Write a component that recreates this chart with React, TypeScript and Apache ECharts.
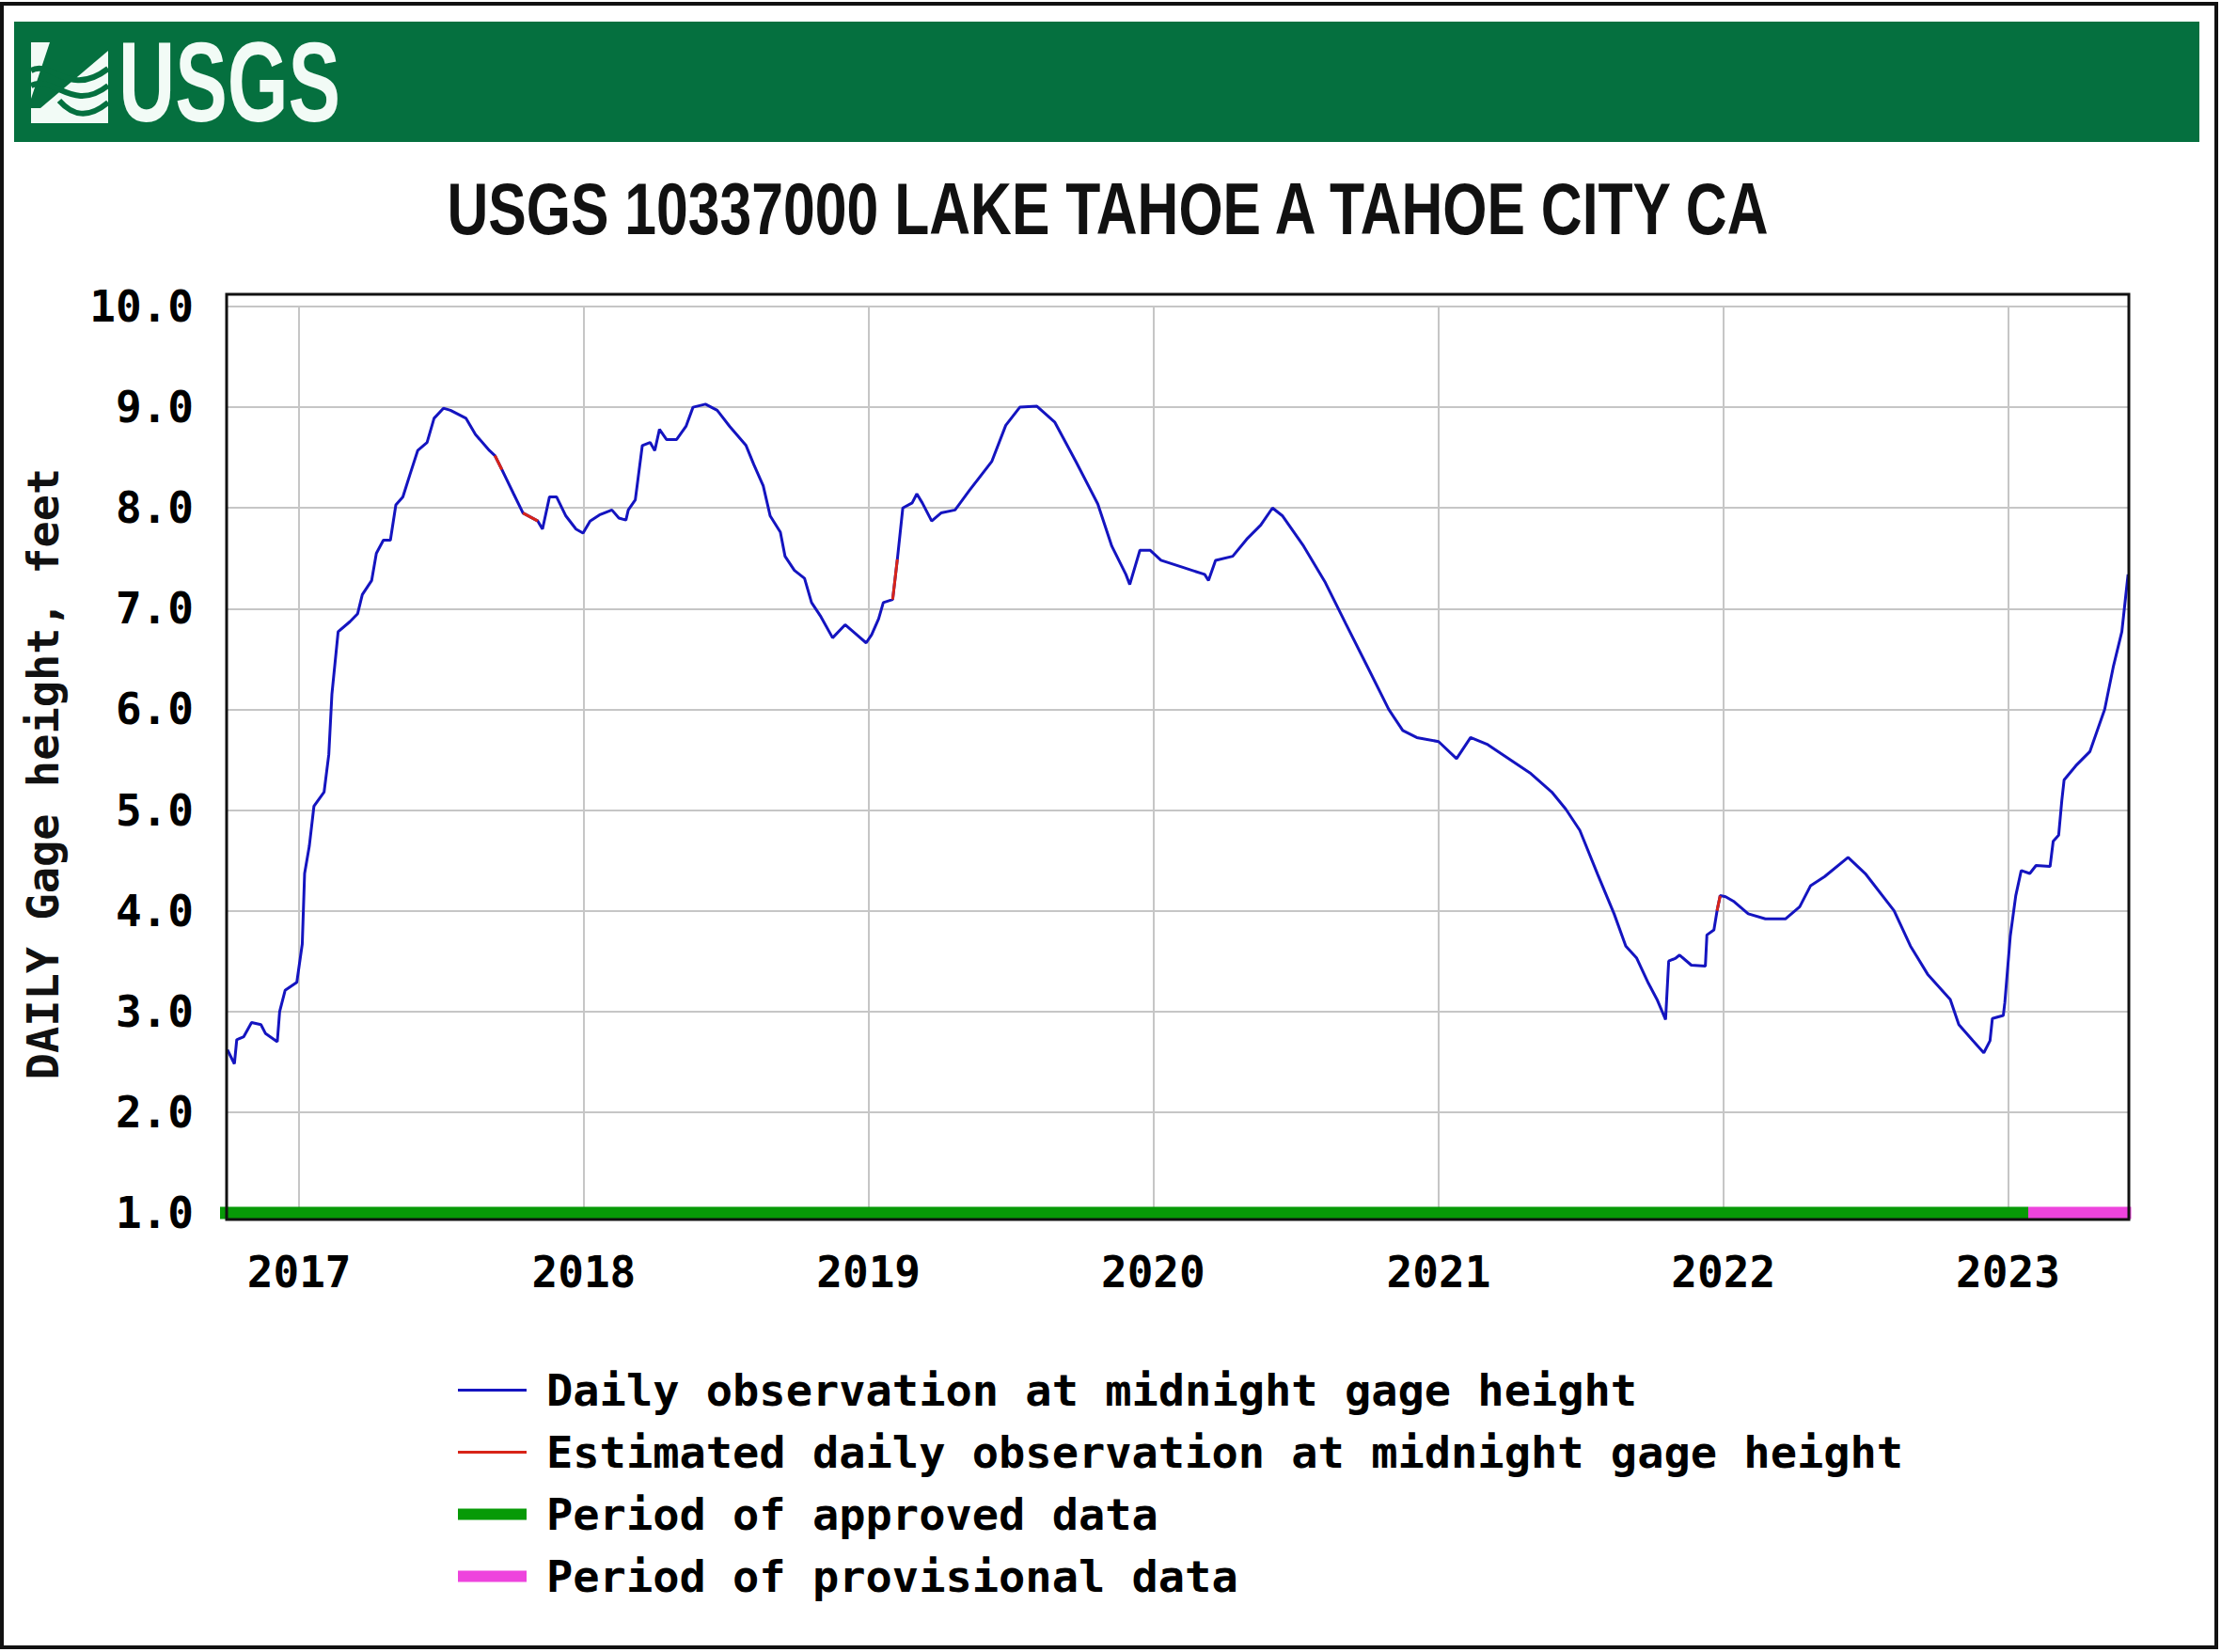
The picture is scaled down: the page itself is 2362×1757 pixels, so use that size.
import React, { useEffect, useRef } from "react";
import * as echarts from "echarts";

// ---- data ----
const obsDates = [
  "2016-10-01","2016-10-10","2016-10-13","2016-10-22","2016-11-01","2016-11-13","2016-11-19","2016-12-04","2016-12-07","2016-12-14","2016-12-29",
  "2017-01-05","2017-01-08","2017-01-14","2017-01-20","2017-02-02","2017-02-08","2017-02-12","2017-02-20","2017-03-07","2017-03-17","2017-03-23",
  "2017-04-04","2017-04-10","2017-04-19","2017-04-28","2017-05-05","2017-05-14","2017-05-23","2017-06-02","2017-06-14","2017-06-23","2017-07-05",
  "2017-07-14","2017-08-03","2017-08-15","2017-09-02","2017-09-09","2017-09-18","2017-10-03","2017-10-15","2017-11-03","2017-11-09","2017-11-18",
  "2017-11-27","2017-12-09","2017-12-22","2017-12-31","2018-01-09","2018-01-21","2018-02-06","2018-02-15","2018-02-24","2018-02-27","2018-03-08",
  "2018-03-17","2018-03-27","2018-04-02","2018-04-08","2018-04-17","2018-04-30","2018-05-12","2018-05-21","2018-06-06","2018-06-21","2018-07-07",
  "2018-07-28","2018-08-07","2018-08-19","2018-08-28","2018-09-10","2018-09-16","2018-09-28","2018-10-11","2018-10-20","2018-11-01","2018-11-16",
  "2018-12-02","2018-12-17","2018-12-29","2019-01-05","2019-01-14","2019-01-20","2019-02-01","2019-02-07","2019-02-14","2019-02-26","2019-03-04",
  "2019-03-11","2019-03-23","2019-04-04","2019-04-22","2019-05-11","2019-06-08","2019-06-26","2019-07-14","2019-08-05","2019-08-28","2019-09-24",
  "2019-10-22","2019-11-09","2019-11-27","2019-12-02","2019-12-15","2019-12-28","2020-01-11","2020-02-08","2020-03-07","2020-03-12","2020-03-21",
  "2020-04-12","2020-04-30","2020-05-18","2020-06-02","2020-06-15","2020-07-12","2020-08-08","2020-09-04","2020-10-02","2020-10-29","2020-11-16",
  "2020-12-04","2021-01-01","2021-01-24","2021-02-11","2021-03-05","2021-04-01","2021-04-28","2021-05-26","2021-06-13","2021-07-01","2021-07-24",
  "2021-08-14","2021-08-29","2021-09-12","2021-09-27","2021-10-08","2021-10-19","2021-10-23","2021-11-01","2021-11-06","2021-11-21","2021-12-09",
  "2021-12-11","2021-12-20","2021-12-24","2021-12-28","2022-01-04","2022-01-15","2022-02-02","2022-02-24","2022-03-22","2022-04-09","2022-04-23",
  "2022-05-11","2022-06-10","2022-07-02","2022-08-08","2022-08-29","2022-09-20","2022-10-19","2022-10-30","2022-11-17","2022-12-01","2022-12-09",
  "2022-12-12","2022-12-26","2022-12-28","2023-01-04","2023-01-11","2023-01-18","2023-01-29","2023-02-06","2023-02-24","2023-02-28","2023-03-07",
  "2023-03-11","2023-03-14","2023-03-29","2023-04-16","2023-05-05","2023-05-16","2023-05-27","2023-06-04"
];

const obsValues = [
  2.62,2.48,2.72,2.75,2.89,2.87,2.78,2.70,3.00,3.21,3.29,
  3.67,4.37,4.64,5.04,5.18,5.55,6.15,6.77,6.87,6.95,7.14,
  7.28,7.55,7.68,7.68,8.03,8.11,8.33,8.57,8.65,8.89,8.99,
  8.97,8.89,8.73,8.57,8.52,8.38,8.14,7.95,7.87,7.79,8.11,
  8.11,7.92,7.79,7.75,7.87,7.93,7.98,7.90,7.88,7.98,8.08,
  8.62,8.65,8.57,8.78,8.68,8.68,8.81,9.00,9.03,8.97,8.81,
  8.62,8.43,8.22,7.92,7.76,7.52,7.38,7.30,7.06,6.92,6.71,
  6.84,6.74,6.66,6.74,6.90,7.06,7.09,7.49,8.00,8.05,8.14,
  8.05,7.87,7.95,7.98,8.18,8.46,8.82,9.00,9.01,8.85,8.46,
  8.04,7.62,7.34,7.24,7.58,7.58,7.48,7.41,7.34,7.28,7.48,
  7.52,7.69,7.83,8.00,7.92,7.62,7.27,6.85,6.42,6.00,5.79,
  5.72,5.68,5.51,5.72,5.65,5.51,5.37,5.18,5.01,4.80,4.36,
  3.97,3.65,3.53,3.28,3.12,2.92,3.50,3.53,3.56,3.46,3.45,
  3.76,3.81,4.00,4.15,4.14,4.09,3.97,3.92,3.92,4.04,4.25,
  4.34,4.53,4.37,4.00,3.65,3.37,3.12,2.87,2.71,2.59,2.71,
  2.93,2.96,3.09,3.75,4.15,4.40,4.37,4.45,4.44,4.69,4.75,
  5.09,5.30,5.44,5.58,6.00,6.42,6.77,7.34
];

// periods flagged as estimated (drawn in red over the daily line)
const estimatedRanges = [
  ["2017-09-09", "2017-09-18"],
  ["2017-10-15", "2017-11-03"],
  ["2019-02-01", "2019-02-07"],
  ["2021-12-24", "2021-12-28"],
];

const approvedPeriod = ["2016-09-18", "2023-01-27"];
const provisionalPeriod = ["2023-01-27", "2023-06-08"];
const periodLevel = 1.0;

const xRange = ["2016-09-30", "2023-06-05"];
const yMin = 1;
const yMax = 10;
const yStep = 1;

const legendNames = [
  "Daily observation at midnight gage height",
  "Estimated daily observation at midnight gage height",
  "Period of approved data",
  "Period of provisional data",
];

const chartTitle = "USGS 10337000 LAKE TAHOE A TAHOE CITY CA";
const yAxisTitle = "DAILY Gage height, feet";

const MONO = "'DejaVu Sans Mono', monospace";
const SANS = "'Liberation Sans', Arial, sans-serif";
const USGS_GREEN = "#05703f";
const LOGO_WHITE = "#f2fbf6";

export default function App() {
  const ref = useRef<HTMLDivElement>(null);

  useEffect(() => {
    if (!ref.current) return;
    const chart = echarts.init(ref.current, null, { renderer: "svg" });

    const obsData = obsDates.map((d, i) => [d, obsValues[i]]);
    const estData: any[] = [];
    estimatedRanges.forEach(([a, b]) => {
      obsDates.forEach((d, i) => {
        if (d >= a && d <= b) estData.push([d, obsValues[i]]);
      });
      estData.push([b, "-"]);
    });

    const gridLeft = 241;
    const gridRight = 2362 - 2264;
    const gridTop = 326;
    const gridBottomY = 1290;

    const option: any = {
      animation: false,
      backgroundColor: "#ffffff",
      grid: {
        left: gridLeft,
        right: gridRight,
        top: gridTop,
        height: gridBottomY - gridTop,
        containLabel: false,
      },
      xAxis: {
        type: "time",
        min: xRange[0],
        max: xRange[1],
        minInterval: 365 * 24 * 3600 * 1000,
        maxInterval: 366 * 24 * 3600 * 1000,
        axisLine: { show: false },
        axisTick: { show: false },
        axisLabel: {
          formatter: "{yyyy}",
          showMinLabel: false,
          showMaxLabel: false,
          fontFamily: MONO,
          fontSize: 46,
          fontWeight: "bold",
          color: "#000",
          margin: 40,
        },
        splitLine: { show: true, lineStyle: { color: "#c6c6c6", width: 2 } },
      },
      yAxis: {
        type: "value",
        min: yMin,
        max: yMax,
        interval: yStep,
        axisLine: { show: false },
        axisTick: { show: false },
        axisLabel: {
          formatter: (v: number) => v.toFixed(1),
          fontFamily: MONO,
          fontSize: 46,
          fontWeight: "bold",
          color: "#000",
          margin: 35,
        },
        splitLine: { show: true, lineStyle: { color: "#c6c6c6", width: 2 } },
      },
      legend: {
        orient: "vertical",
        left: 476,
        top: 1450,
        itemWidth: 73,
        itemHeight: 20,
        itemGap: 19,
        selectedMode: false,
        itemStyle: { opacity: 0 },
        textStyle: {
          fontFamily: MONO,
          fontSize: 47,
          fontWeight: "bold",
          color: "#000",
          lineHeight: 46,
          padding: [0, 0, 0, 16],
        },
        data: [
          { name: legendNames[0], lineStyle: { width: 3 } },
          { name: legendNames[1], lineStyle: { width: 3 } },
          { name: legendNames[2], lineStyle: { width: 12 } },
          { name: legendNames[3], lineStyle: { width: 12 } },
        ],
      },
      series: [
        {
          name: legendNames[0],
          type: "line",
          data: obsData,
          symbol: "none",
          color: "#1414c0",
          lineStyle: { width: 3, color: "#1414c0" },
          z: 3,
        },
        {
          name: legendNames[1],
          type: "line",
          data: estData,
          symbol: "none",
          connectNulls: false,
          color: "#d82418",
          lineStyle: { width: 3, color: "#d82418" },
          z: 4,
        },
        {
          name: legendNames[2],
          type: "line",
          data: [
            [approvedPeriod[0], periodLevel],
            [approvedPeriod[1], periodLevel],
          ],
          symbol: "none",
          clip: false,
          color: "#079a07",
          lineStyle: { width: 13, color: "#079a07", cap: "butt" },
          z: 2,
        },
        {
          name: legendNames[3],
          type: "line",
          data: [
            [provisionalPeriod[0], periodLevel],
            [provisionalPeriod[1], periodLevel],
          ],
          symbol: "none",
          clip: false,
          color: "#ee44dd",
          lineStyle: { width: 13, color: "#ee44dd", cap: "butt" },
          z: 2,
        },
      ],
      graphic: [
        // outer frame
        {
          type: "rect",
          shape: { x: 2, y: 4, width: 2355, height: 1748 },
          style: { fill: "none", stroke: "#111", lineWidth: 4 },
          z: 100,
        },
        // header band
        {
          type: "rect",
          shape: { x: 15, y: 23, width: 2324, height: 128 },
          style: { fill: USGS_GREEN },
          z: 1,
        },
        // logo icon
        { type: "rect", shape: { x: 33, y: 45, width: 82, height: 86 }, style: { fill: LOGO_WHITE }, z: 5 },
        {
          type: "polygon",
          shape: { points: [[53, 45], [115, 45], [115, 54], [43, 115], [33, 115], [33, 105]] },
          style: { fill: USGS_GREEN },
          z: 6,
        },
        {
          type: "bezierCurve",
          shape: { x1: 33, y1: 75, cpx1: 55, cpy1: 63, cpx2: 73, cpy2: 105, x2: 115, y2: 73 },
          style: { stroke: USGS_GREEN, lineWidth: 6, fill: "none" },
          z: 7,
        },
        {
          type: "bezierCurve",
          shape: { x1: 33, y1: 91, cpx1: 57, cpy1: 79, cpx2: 77, cpy2: 121, x2: 115, y2: 91 },
          style: { stroke: USGS_GREEN, lineWidth: 6, fill: "none" },
          z: 7,
        },
        {
          type: "bezierCurve",
          shape: { x1: 63, y1: 107, cpx1: 77, cpy1: 123, cpx2: 93, cpy2: 127, x2: 115, y2: 109 },
          style: { stroke: USGS_GREEN, lineWidth: 6, fill: "none" },
          z: 7,
        },
        {
          type: "text",
          x: 126,
          y: 88,
          scaleX: 0.694,
          z: 5,
          style: {
            text: "USGS",
            fill: LOGO_WHITE,
            fontFamily: SANS,
            fontSize: 120,
            fontWeight: "bold",
            align: "left",
            verticalAlign: "middle",
          },
        },
        // chart title
        {
          type: "text",
          x: 1178,
          y: 222,
          scaleX: 0.778,
          z: 2,
          style: {
            text: chartTitle,
            fill: "#111",
            fontFamily: SANS,
            fontSize: 78,
            fontWeight: "bold",
            align: "center",
            verticalAlign: "middle",
          },
        },
        // y-axis title
        {
          type: "text",
          x: 45,
          y: 823,
          rotation: Math.PI / 2,
          z: 2,
          style: {
            text: yAxisTitle,
            fill: "#111",
            fontFamily: MONO,
            fontSize: 47,
            fontWeight: "bold",
            align: "center",
            verticalAlign: "middle",
          },
        },
        // plot frame
        {
          type: "rect",
          shape: { x: 241, y: 313, width: 2023, height: 984 },
          style: { fill: "none", stroke: "#111", lineWidth: 3 },
          z: 50,
        },
      ],
    };

    chart.setOption(option);
    return () => chart.dispose();
  }, []);

  return (
    <div
      ref={ref}
      style={{ position: "fixed", left: 0, top: 0, width: 2362, height: 1757, background: "#fff" }}
    />
  );
}
